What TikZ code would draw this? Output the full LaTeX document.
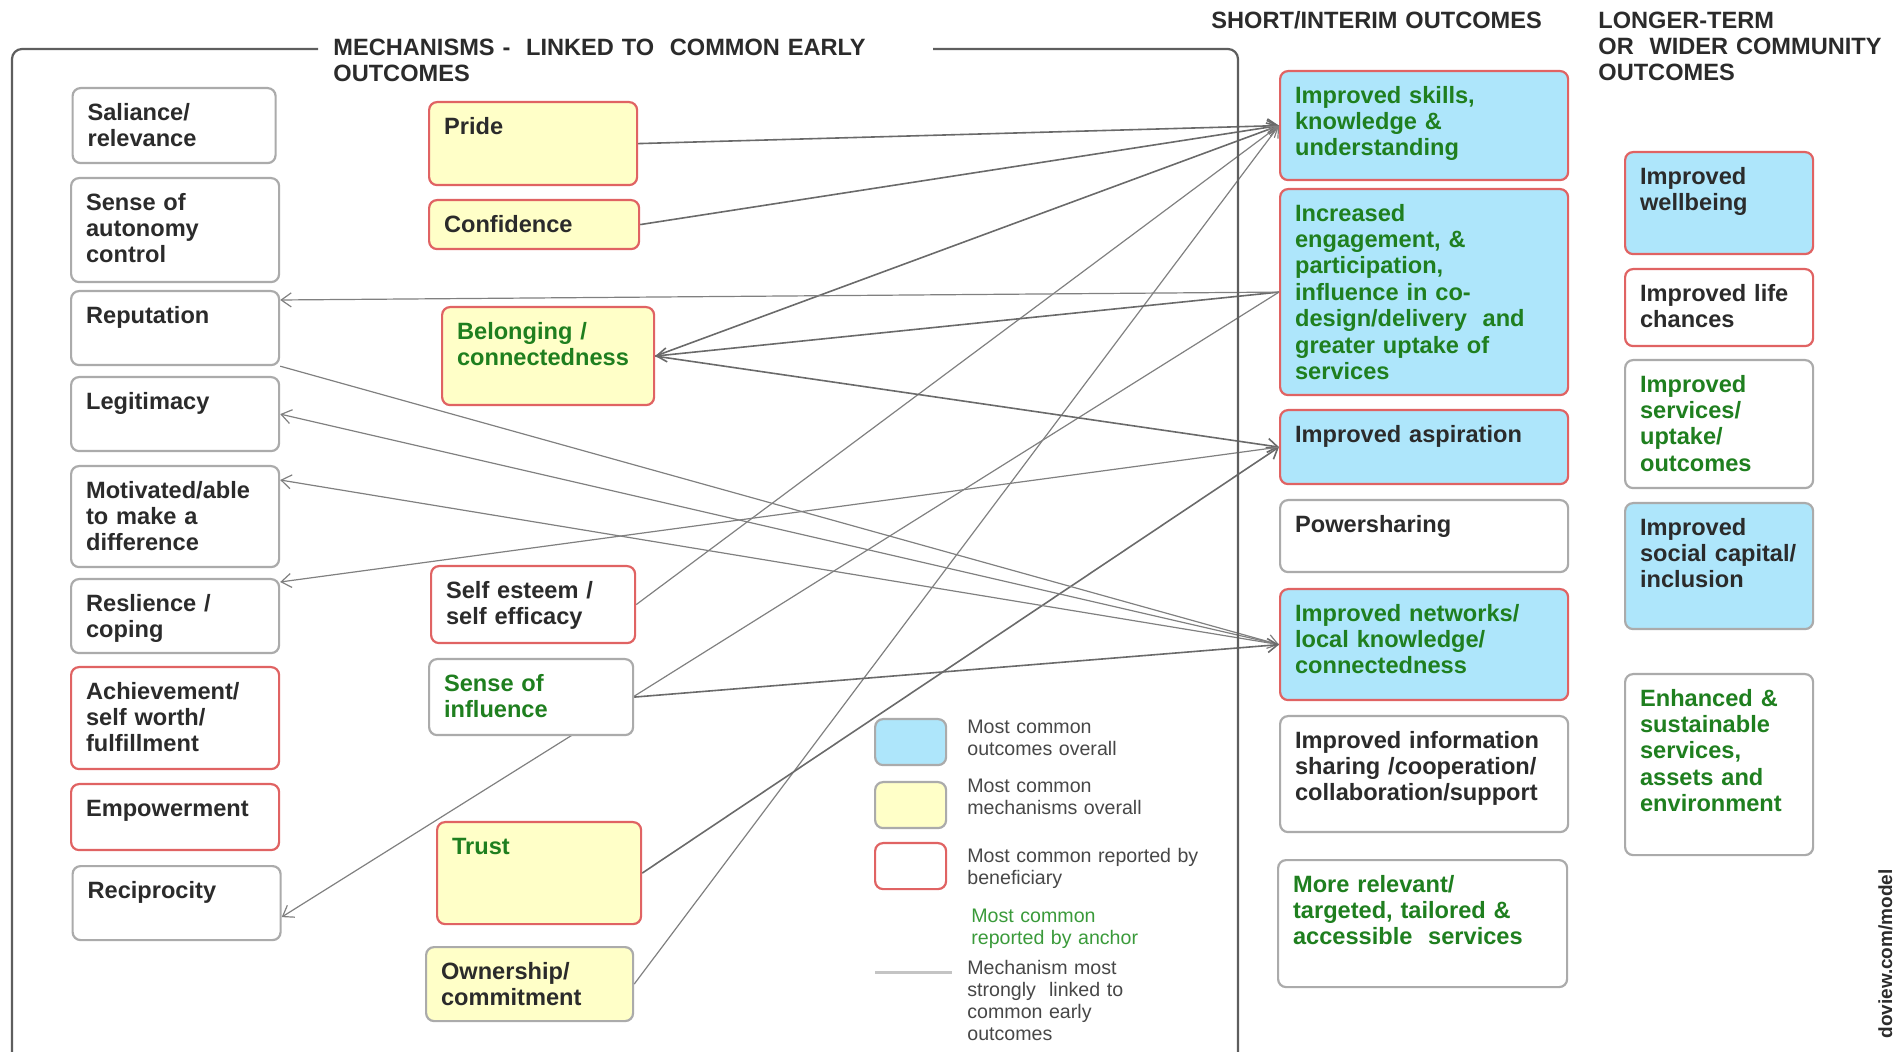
\documentclass[tikz,border=0pt]{standalone}
\usepackage{fontspec}
\setmainfont{Liberation Sans}
\usetikzlibrary{arrows.meta,backgrounds}

\definecolor{outblue}{HTML}{AEE6FB}
\definecolor{mechyellow}{HTML}{FFFFC8}
\definecolor{benred}{HTML}{E06363}
\definecolor{boxgray}{HTML}{ABABAB}
\definecolor{anchorgreen}{HTML}{1F7F1F}
\definecolor{keygreen}{HTML}{3A9A3A}
\definecolor{textdark}{HTML}{2B2B2B}
\definecolor{keygray}{HTML}{474747}
\definecolor{linkgray}{HTML}{6A6A6A}
\definecolor{framegray}{HTML}{5E5E5E}

\tikzset{
  box/.style={draw=boxgray, fill=white, line width=1.1pt, rounded corners=4pt,
    anchor=north west, align=left, inner xsep=7.5pt, inner ysep=7pt,
    text height=9pt, text=textdark,
    font=\fontsize{11.8}{13.2}\selectfont\bfseries},
  benef/.style={draw=benred},
  mechfill/.style={fill=mechyellow},
  outfill/.style={fill=outblue},
  anchortext/.style={text=anchorgreen},
  heading/.style={anchor=base west, align=left, inner sep=0pt, text=textdark,
    font=\fontsize{11.8}{13}\selectfont\bfseries},
  keybox/.style={draw=boxgray, fill=white, line width=1.1pt, rounded corners=4pt,
    anchor=north west, minimum width=35.5pt, minimum height=23pt, inner sep=0pt},
  keytext/.style={anchor=base west, align=left, text width=130pt, inner sep=0pt,
    text=keygray, font=\fontsize{9.8}{11}\selectfont},
  link/.style={draw=linkgray, line width=0.8pt},
  thinlink/.style={draw=linkgray!85, line width=0.6pt}
}

\begin{document}
\begin{tikzpicture}[x=0.5pt,y=-0.5pt,>={Straight Barb[length=5pt,width=7pt]}]
  \useasboundingbox (0,0) rectangle (1901,1052);

  % headings and frame
  \node[heading, text width=290pt] (mechtitle) at (333,55.5) {MECHANISMS -\ \ LINKED TO\ \ COMMON EARLY\\OUTCOMES};
  \node[heading, text width=170pt] (shorttitle) at (1211,28.5) {SHORT/INTERIM OUTCOMES};
  \node[heading, text width=150pt] (longtitle) at (1598,28.5) {LONGER-TERM\\OR\ \ WIDER COMMUNITY\\OUTCOMES};
  \draw[framegray, line width=1.1pt, rounded corners=5pt] (318,49) -- (12,49) -- (12,1062) -- (1238,1062) -- (1238,49) -- (933,49);

  % left column
  \node[box, text width=86.5pt, text depth=14.5pt] (salience) at (71.5,87) {Saliance/\\relevance};
  \node[box, text width=89pt, text depth=29pt] (autonomy) at (70,177) {Sense of\\autonomy\\control};
  \node[box, text width=89pt, text depth=14pt] (repu) at (70,290) {Reputation};
  \node[box, text width=89pt, text depth=14pt] (legit) at (70,376) {Legitimacy};
  \node[box, text width=89pt, text depth=27.5pt] (motiv) at (70,465) {Motivated/able\\to make a\\difference};
  \node[box, text width=89pt, text depth=14pt] (resil) at (70,578) {Reslience /\\coping};
  \node[box, benef, text width=89pt, text depth=28pt] (achiev) at (70,666) {Achievement/\\self worth/\\fulfillment};
  \node[box, benef, text width=89pt, text depth=10pt] (empow) at (70,783) {Empowerment};
  \node[box, text width=89pt, text depth=14pt] (recip) at (71.5,865) {Reciprocity};

  % mechanisms
  \node[box, benef, mechfill, text width=89pt, text depth=18.5pt] (pride) at (428,101) {Pride};
  \node[box, benef, mechfill, text width=90pt, text depth=1.5pt] (confid) at (428,199) {Confidence};
  \node[box, benef, mechfill, anchortext, text width=91pt, text depth=26pt] (belong) at (441,306) {Belonging /\\connectedness};
  \node[box, benef, text width=87pt, text depth=15.5pt] (selfest) at (430,565) {Self esteem /\\self efficacy};
  \node[box, anchortext, text width=87pt, text depth=15pt] (senseinf) at (428,658) {Sense of\\influence};
  \node[box, benef, mechfill, anchortext, text width=87pt, text depth=28pt] (trust) at (436,821) {Trust};
  \node[box, mechfill, text width=88.5pt, text depth=14pt] (owner) at (425,946) {Ownership/\\commitment};

  % short/interim outcomes
  \node[box, benef, outfill, anchortext, text width=129pt, text depth=31.5pt] (skills) at (1279,70) {Improved skills,\\knowledge \&\\understanding};
  \node[box, benef, outfill, anchortext, text width=129pt, text depth=80pt] (engage) at (1279,188) {Increased\\engagement, \&\\participation,\\influence in co-\\design/delivery\ \ and\\greater uptake of\\services};
  \node[box, benef, outfill, text width=129pt, text depth=14pt] (aspir) at (1279,409) {Improved aspiration};
  \node[box, text width=129pt, text depth=13pt] (power) at (1279,499) {Powersharing};
  \node[box, benef, outfill, anchortext, text width=129pt, text depth=32.5pt] (network) at (1279,588) {Improved networks/\\local knowledge/\\connectedness};
  \node[box, text width=129pt, text depth=35pt] (info) at (1279,715) {Improved information\\sharing /cooperation/\\collaboration/support};
  \node[box, anchortext, text width=129.5pt, text depth=40.5pt] (relev) at (1277,859) {More relevant/\\targeted, tailored \&\\accessible\ \ services};

  % longer-term outcomes
  \node[box, benef, outfill, text width=79pt, text depth=28pt] (wellb) at (1624,151) {Improved\\wellbeing};
  \node[box, benef, text width=79pt, text depth=15.5pt] (life) at (1624,268) {Improved life\\chances};
  \node[box, anchortext, text width=79pt, text depth=41pt] (serv) at (1624,359) {Improved\\services/\\uptake/\\outcomes};
  \node[box, outfill, text width=79pt, text depth=40pt] (social) at (1624,502) {Improved\\social capital/\\inclusion};
  \node[box, anchortext, text width=79pt, text depth=67.5pt] (enh) at (1624,673) {Enhanced \&\\sustainable\\services,\\assets and\\environment};

  % key
  \node[keybox, outfill] (keyout) at (874,718) {};
  \node[keybox, mechfill] (keymech) at (874,781) {};
  \node[keybox, draw=benred] (keyben) at (874,842) {};
  \coordinate (keyA) at (875,972);
  \coordinate (keyB) at (952,972);
  \draw[boxgray!70, line width=1.5pt] (keyA) -- (keyB);
  \node[keytext] (keyouttext) at (967,734) {Most common\\outcomes overall};
  \node[keytext] (keymechtext) at (967,793) {Most common\\mechanisms overall};
  \node[keytext] (keybentext) at (967,863) {Most common reported by\\beneficiary};
  \node[keytext, text=keygreen] (keyanchortext) at (971,922) {Most common\\reported by anchor};
  \node[keytext] (keylinktext) at (967,974) {Mechanism most\\strongly\ \ linked to\\common early\\outcomes};

  \node[rotate=90, anchor=base west, inner sep=0pt, text=textdark,
    font=\fontsize{9.5}{10}\selectfont\bfseries] (credit) at (1892,1039) {doview.com/model};

  % links
  \begin{scope}[on background layer]
    \draw[link,->] (pride.east) -- (skills.west);
    \draw[link,->] (confid.east) -- (skills.west);
    \draw[link,->] (belong.east) -- (skills.west);
    \draw[thinlink,->] (selfest.east) -- (skills.west);
    \draw[thinlink,->] (owner.east) -- (skills.west);
    \draw[link,->] (engage.west) -- (belong.east);
    \draw[thinlink,->] (engage.west) -- ([yshift=-5pt]repu.north east);
    \draw[thinlink,->] (engage.west) -- ([yshift=-7pt]recip.east);
    \draw[link,->] (belong.east) -- (aspir.west);
    \draw[link,->] (trust.east) -- (aspir.west);
    \draw[thinlink,->] (aspir.west) -- ([yshift=-2pt]resil.north east);
    \draw[thinlink,->] (repu.south east) -- (network.west);
    \draw[thinlink,->] (network.west) -- (legit.east);
    \draw[thinlink,->] (network.west) -- ([yshift=-7.5pt]motiv.north east);
    \draw[link,->] (senseinf.east) -- (network.west);
  \end{scope}
\end{tikzpicture}
\end{document}
